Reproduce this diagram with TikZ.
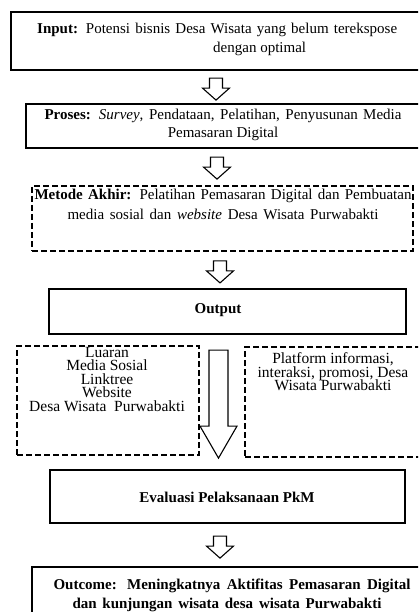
\documentclass[tikz,border=0pt]{standalone}
\usepackage{fontspec}
\setmainfont{Liberation Serif}
\usetikzlibrary{calc}
\newcommand{\tightlines}[1]{\fontsize{15.5}{#1}\selectfont\lineskiplimit=-20pt\relax}
\tikzset{
  solidbox/.style={draw=black, line width=2.2pt, rectangle, inner sep=0pt, fill=none},
  dashbox/.style={draw=black, line width=1.8pt, rectangle, inner sep=0pt, dash pattern=on 6pt off 3pt},
  txt/.style={inner sep=0pt, text=black, font=\fontsize{15}{19}\selectfont},
  arrowline/.style={draw=black, line width=1.1pt, fill=white, line join=miter},
  pics/harrow/.style n args={4}{code={
    \draw[arrowline] (-#2,0) -- (#2,0) -- (#2,#1-#4) -- (#3,#1-#4) -- (0,#1)
      -- (-#3,#1-#4) -- (-#2,#1-#4) -- cycle;
  }}
}
\begin{document}
\begin{tikzpicture}[x=1pt,y=-1pt]
\useasboundingbox (0,0) rectangle (418,612);
\clip (0,0) rectangle (418,612);
\fill[white] (0,0) rectangle (418,612);

% boxes
\node[solidbox, minimum width=429pt, minimum height=58pt] (input) at (225.5,41) {};
\node[solidbox, minimum width=414pt, minimum height=44pt] (proses) at (233,126) {};
\node[dashbox, minimum width=381pt, minimum height=65pt] (metode) at (222.5,218.5) {};
\node[solidbox, minimum width=357pt, minimum height=45pt] (output) at (227.5,311.5) {};
\node[dashbox, minimum width=182pt, minimum height=109pt] (luaran) at (108,400.5) {};
\node[dashbox, minimum width=195pt, minimum height=110pt] (platform) at (342.5,402) {};
\node[solidbox, minimum width=355pt, minimum height=53pt] (eval) at (227.5,496.5) {};
\node[solidbox, minimum width=408pt, minimum height=73pt] (outcome) at (236,603.5) {};

% texts
\node[txt, anchor=north west, align=left] (inputtxt) at (37,22.7)
  {\makebox[360pt][s]{\textbf{Input:} Potensi bisnis Desa Wisata yang belum terekspose}\\\hspace*{176pt}dengan optimal};
\node[txt, anchor=north, align=center, font=\fontsize{15}{18}\selectfont] (prosestxt) at (223,108.7)
  {\makebox[357pt][s]{\textbf{Proses:} \emph{Survey}, Pendataan, Pelatihan, Penyusunan Media}\\Pemasaran Digital};
\node[txt, anchor=north, align=center, font=\fontsize{15}{20}\selectfont] (metodetxt) at (223,188.7)
  {\makebox[377pt][s]{\textbf{Metode Akhir:} Pelatihan Pemasaran Digital dan Pembuatan}\\\makebox[311pt][s]{media sosial dan \emph{website} Desa Wisata Purwabakti}};
\node[txt, anchor=base] (outputtxt) at (218,313) {\textbf{Output}};
\node[txt, anchor=north, align=center, font=\tightlines{13.5}] (luarantxt) at (107,347)
  {Luaran\\Media Sosial\\Linktree\\Website\\Desa Wisata\ \ Purwabakti};
\node[txt, anchor=north, align=center, font=\tightlines{13.5}] (platformtxt) at (333,352.4)
  {Platform informasi,\\interaksi,\ promosi,\ Desa\\Wisata\ Purwabakti};
\node[txt, anchor=base] (evaltxt) at (227,502) {\textbf{Evaluasi Pelaksanaan PkM}};
\node[txt, anchor=north, align=center] (outcometxt) at (232,578.7)
  {\makebox[357pt][s]{\textbf{Outcome: Meningkatnya Aktifitas Pemasaran Digital}}\\\makebox[309pt][s]{\textbf{dan kunjungan wisata desa wisata Purwabakti}}\hspace*{10pt}};

% arrow axes
\coordinate (ax1) at (216,0);
\coordinate (ax2) at (217,0);
\coordinate (ax3) at (220,0);
\coordinate (axb) at (218.5,0);
\coordinate (ax4) at (220,0);

% connectors (hollow block arrows)
\pic at ($(ax1 |- input.south)+(0,7)$) {harrow={22}{6.5}{13.5}{12}};
\pic at ($(ax2 |- proses.south)+(0,8)$) {harrow={22}{6.5}{13.5}{12}};
\pic at ($(ax3 |- metode.south)+(0,9)$) {harrow={22}{6.5}{13.5}{12}};
\pic at ($(axb |- output.south)+(0,15)$) {harrow={108}{9.5}{18.5}{32}};
\pic at ($(ax4 |- eval.south)+(0,12)$) {harrow={22}{6.5}{13.5}{12}};
\end{tikzpicture}
\end{document}
